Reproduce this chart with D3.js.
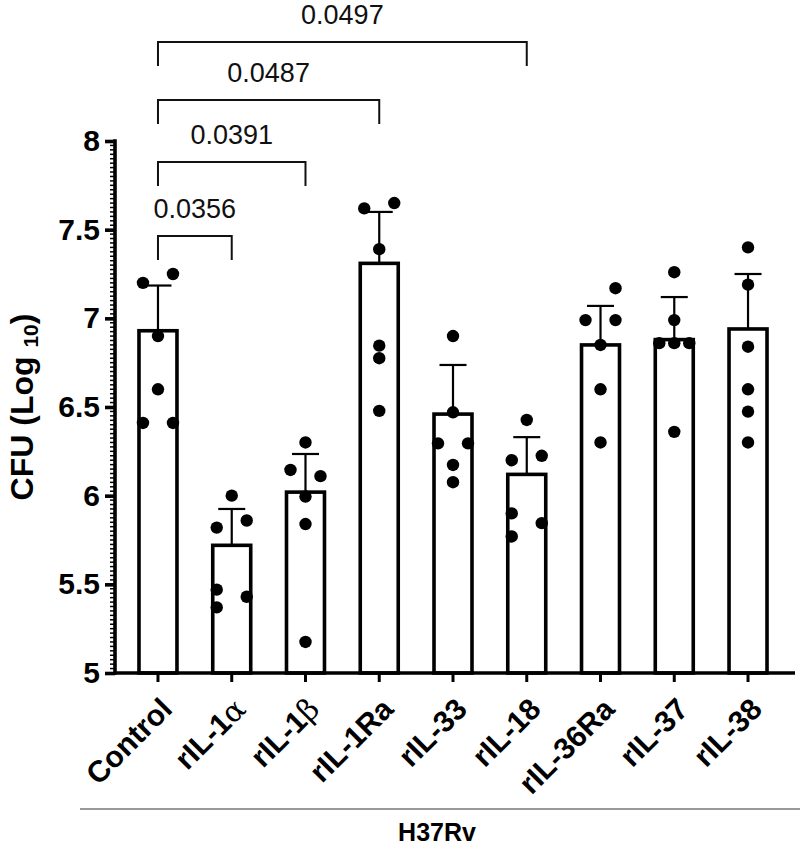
<!DOCTYPE html>
<html>
<head>
<meta charset="utf-8">
<script src="https://cdn.jsdelivr.net/npm/d3@7"></script>
<style>
  html, body { margin: 0; padding: 0; background: #fff; }
  svg { display: block; }
</style>
</head>
<body>
<svg id="chart" width="800" height="845"></svg>
<script>
// ---------- data ----------
const categories = ["Control", "rIL-1α", "rIL-1β", "rIL-1Ra", "rIL-33", "rIL-18", "rIL-36Ra", "rIL-37", "rIL-38"];
const means = [6.93, 5.72, 6.02, 7.31, 6.46, 6.12, 6.85, 6.88, 6.94];
const sds   = [0.255, 0.205, 0.215, 0.29, 0.277, 0.21, 0.22, 0.24, 0.31];
const points = [
  [7.20, 7.25, 6.90, 6.60, 6.41, 6.41],
  [6.00, 5.82, 5.86, 5.47, 5.37, 5.43],
  [6.30, 6.145, 6.11, 5.995, 5.84, 5.175],
  [7.62, 7.65, 7.39, 6.846, 6.775, 6.478],
  [6.90, 6.47, 6.295, 6.295, 6.173, 6.076],
  [6.427, 6.20, 6.225, 5.90, 5.77, 5.845],
  [7.17, 6.99, 6.99, 6.85, 6.60, 6.30],
  [7.26, 6.99, 6.86, 6.86, 6.86, 6.36],
  [7.40, 7.19, 6.84, 6.60, 6.474, 6.30]
];
// lane of each point in the scatter: -1 left, 0 centre, 1 right
const lanes = [
  [-1, 1, 0, 0, -1, 1],
  [0, -1, 1, -1, -1, 1],
  [0, -1, 1, 0, 0, 0],
  [-1, 1, 0, 0, 0, 0],
  [0, 0, -1, 1, 0, 0],
  [0, -1, 1, -1, -1, 1],
  [1, -1, 1, 0, 0, 0],
  [0, 0, -1, 0, 1, 0],
  [0, 0, 0, 0, 0, 0]
];
const comparisons = [
  { from: "Control", to: "rIL-1α",  p: "0.0356", level: 0 },
  { from: "Control", to: "rIL-1β",  p: "0.0391", level: 1 },
  { from: "Control", to: "rIL-1Ra", p: "0.0487", level: 2 },
  { from: "Control", to: "rIL-18",  p: "0.0497", level: 3 }
];
const yTicks = [5, 5.5, 6, 6.5, 7, 7.5, 8];
const yTitle = "CFU (Log";
const yTitleSub = "10";
const groupLabel = "H37Rv";

// ---------- layout ----------
const svg = d3.select("#chart");
const FONT = "'Liberation Sans', Arial, Helvetica, sans-serif";
const axisX = 115;
const x = d3.scaleBand().domain(categories)
  .range([121.1, 784.9]).paddingInner(0.485).paddingOuter(0.2425);
const y = d3.scaleLinear().domain([5, 8]).range([673, 141]);
const cx = c => x(c) + x.bandwidth() / 2;

// bars
svg.append("g").selectAll("rect").data(categories).join("rect")
  .attr("x", d => x(d))
  .attr("y", (d, i) => y(means[i]))
  .attr("width", x.bandwidth())
  .attr("height", (d, i) => y(5) - y(means[i]))
  .attr("fill", "#fff")
  .attr("stroke", "#000")
  .attr("stroke-width", 3.6);

// error bars (upper only)
const eb = svg.append("g").attr("stroke", "#000").attr("stroke-width", 2.2);
categories.forEach((c, i) => {
  eb.append("line").attr("x1", cx(c)).attr("x2", cx(c))
    .attr("y1", y(means[i])).attr("y2", y(means[i] + sds[i]));
  eb.append("line").attr("x1", cx(c) - 13.5).attr("x2", cx(c) + 13.5)
    .attr("y1", y(means[i] + sds[i])).attr("y2", y(means[i] + sds[i]));
});

// points
const pts = [];
categories.forEach((c, i) => points[i].forEach((v, j) => pts.push({ c, v, lane: lanes[i][j] })));
svg.append("g").selectAll("circle").data(pts).join("circle")
  .attr("cx", d => cx(d.c) + d.lane * 15)
  .attr("cy", d => y(d.v))
  .attr("r", 6.2)
  .attr("fill", "#000");

// y axis
const yAxis = d3.axisLeft(y).tickValues(yTicks).tickSize(10).tickPadding(5)
  .tickFormat(d => d3.format("~g")(d));
const gy = svg.append("g").attr("transform", `translate(${axisX},0)`).call(yAxis);
gy.select(".domain").remove();
gy.selectAll(".tick line").attr("stroke", "#000").attr("stroke-width", 3.6);
gy.selectAll(".tick text").attr("font-family", FONT).attr("font-weight", "bold")
  .attr("font-size", 30).attr("fill", "#000");
const minor = d3.range(5, 8.0001, 0.025).filter(v => Math.abs(v * 2 - Math.round(v * 2)) > 1e-6);
svg.append("g").selectAll("line").data(minor).join("line")
  .attr("x1", axisX - 5).attr("x2", axisX)
  .attr("y1", d => y(d)).attr("y2", d => y(d))
  .attr("stroke", "#000").attr("stroke-width", 1.5);
svg.append("line").attr("x1", axisX).attr("x2", axisX)
  .attr("y1", y(8) - 1.8).attr("y2", y(5) + 1.8)
  .attr("stroke", "#000").attr("stroke-width", 3.6);

// x axis
const xAxis = d3.axisBottom(x).tickSize(9).tickFormat("");
const gx = svg.append("g").attr("transform", `translate(0,${y(5)})`).call(xAxis);
gx.select(".domain").remove();
gx.selectAll(".tick line").attr("stroke", "#000").attr("stroke-width", 3);
svg.append("line").attr("x1", axisX).attr("x2", 795)
  .attr("y1", y(5)).attr("y2", y(5))
  .attr("stroke", "#000").attr("stroke-width", 3.6);

// x labels
const lab = svg.append("g").selectAll("text").data(categories).join("text")
  .attr("transform", d => `translate(${cx(d) + 1},${y(5) + 23}) rotate(-45)`)
  .attr("text-anchor", "end")
  .attr("dy", "0.7em")
  .attr("font-family", FONT).attr("font-weight", "bold").attr("font-size", 30)
  .attr("fill", "#000");
lab.each(function (d) {
  const t = d3.select(this);
  const m = d.match(/^(.*?)([αβ])$/);
  if (m) {
    t.append("tspan").text(m[1]);
    t.append("tspan").text(m[2]).attr("font-weight", "normal")
      .attr("font-family", "'DejaVu Serif', 'Liberation Serif', serif");
  } else {
    t.text(d);
  }
});

// y title
const yt = svg.append("text")
  .attr("transform", `translate(33,407) rotate(-90)`)
  .attr("text-anchor", "middle")
  .attr("font-family", FONT).attr("font-weight", "bold").attr("font-size", 32)
  .attr("fill", "#000");
yt.append("tspan").text(yTitle + " ");
yt.append("tspan").text(yTitleSub).attr("font-size", 21).attr("dy", 5);
yt.append("tspan").text(")").attr("dy", -5);

// significance brackets
const levelY = [236, 162, 100, 42];
const bg = svg.append("g");
comparisons.forEach(cmp => {
  const x1 = cx(cmp.from), x2 = cx(cmp.to), yy = levelY[cmp.level];
  bg.append("path")
    .attr("d", `M${x1},${yy + 24}V${yy}H${x2}V${yy + 24}`)
    .attr("fill", "none").attr("stroke", "#111").attr("stroke-width", 2);
  bg.append("text").attr("x", (x1 + x2) / 2).attr("y", yy - 18)
    .attr("text-anchor", "middle")
    .attr("font-family", FONT).attr("font-size", 27).attr("fill", "#111")
    .text(cmp.p);
});

// group line and label
svg.append("line").attr("x1", 80).attr("x2", 800).attr("y1", 809).attr("y2", 809)
  .attr("stroke", "#999").attr("stroke-width", 2);
svg.append("text").attr("x", 437).attr("y", 841).attr("text-anchor", "middle")
  .attr("font-family", FONT).attr("font-weight", "bold").attr("font-size", 25)
  .attr("fill", "#000").text(groupLabel);
</script>
</body>
</html>
